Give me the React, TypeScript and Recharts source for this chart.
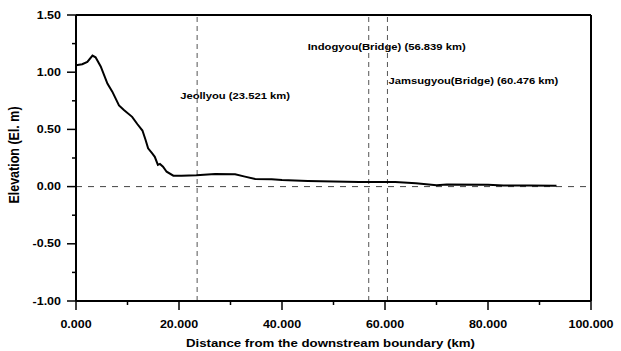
import { LineChart, Line, XAxis, YAxis, ReferenceLine } from "recharts";

// longitudinal water-surface profile
const distanceKm = [
  0, 1.2, 2.2, 3.2, 3.8, 4.8, 6.1, 7.05, 8.35, 9.3,
  10.9, 11.9, 12.9, 13.5, 14.0, 14.8, 15.3, 15.9, 16.3, 16.9,
  17.6, 18.9, 20.5, 23.4, 27.0, 30.9, 32.8, 34.8, 38.0, 40.0,
  45.0, 50.0, 55.0, 60.0, 62.0, 66.0, 70.0, 72.0, 80.0, 83.0,
  88.0, 93.3,
];
const elevation = [
  1.06, 1.07, 1.09, 1.145, 1.13, 1.05, 0.9, 0.83, 0.71, 0.67,
  0.61, 0.547, 0.49, 0.41, 0.335, 0.29, 0.26, 0.19, 0.198, 0.174,
  0.13, 0.095, 0.095, 0.1, 0.11, 0.107, 0.087, 0.066, 0.064, 0.058,
  0.05, 0.045, 0.04, 0.04, 0.04, 0.03, 0.012, 0.018, 0.017, 0.01,
  0.009, 0.008,
];

const markerNames = ["Jeollyou", "Indogyou(Bridge)", "Jamsugyou(Bridge)"];
const markerKm = [23.521, 56.839, 60.476];

const xTicks = [0, 10, 20, 30, 40, 50, 60, 70, 80, 90, 100];
const yTicks = [-1, -0.75, -0.5, -0.25, 0, 0.25, 0.5, 0.75, 1, 1.25, 1.5];

// label placement next to each marker line (px from line x / plot top)
const labelOffsets = [
  { dx: -17, dy: 84 },
  { dx: -61, dy: 35 },
  { dx: 1, dy: 69 },
];

const data = distanceKm.map((km, i) => ({ km, elev: elevation[i] }));

const FONT = '"Liberation Sans", Arial, sans-serif';
const SX = 1.25;

function WideText({ x, y, anchor = "start", size, bold = true, children }: any) {
  return (
    <text
      x={0}
      y={0}
      transform={`translate(${x},${y}) scale(${SX},1)`}
      textAnchor={anchor}
      fontFamily={FONT}
      fontSize={size}
      fontWeight={bold ? "bold" : "normal"}
      fill="#000"
    >
      {children}
    </text>
  );
}

function XTick({ x, y, payload }: any) {
  const major = payload.value % 20 === 0;
  return (
    <g>
      <line x1={x} x2={x} y1={y} y2={y + (major ? 9 : 4)} stroke="#000" strokeWidth={1.5} />
      {major && (
        <WideText x={x} y={y + 27} anchor="middle" size={10}>
          {payload.value.toFixed(3)}
        </WideText>
      )}
    </g>
  );
}

function YTick({ x, y, payload }: any) {
  const major = Math.abs((payload.value * 2) % 1) < 1e-6;
  return (
    <g>
      <line x1={x - (major ? 9 : 4)} x2={x} y1={y} y2={y} stroke="#000" strokeWidth={1.5} />
      {major && (
        <WideText x={x - 15} y={y + 3.6} anchor="end" size={10}>
          {payload.value.toFixed(2)}
        </WideText>
      )}
    </g>
  );
}

function MarkerLabel({ viewBox, text, dx, dy }: any) {
  if (!viewBox) return null;
  return (
    <WideText x={viewBox.x + dx} y={viewBox.y + dy} size={9}>
      {text}
    </WideText>
  );
}

function XTitle({ viewBox }: any) {
  return (
    <WideText x={viewBox.x + viewBox.width / 2 - 3} y={347} anchor="middle" size={10.6}>
      Distance from the downstream boundary (km)
    </WideText>
  );
}

function YTitle({ viewBox }: any) {
  const cy = viewBox.y + viewBox.height / 2 - 3;
  return (
    <text
      x={0}
      y={0}
      transform={`translate(19,${cy}) rotate(-90) scale(1,1.1)`}
      textAnchor="middle"
      fontFamily={FONT}
      fontSize={12.5}
      fontWeight="bold"
      fill="#000"
    >
      Elevation (El. m)
    </text>
  );
}

export default function App() {
  return (
    <div style={{ position: "absolute", left: 0, top: 0, width: 621, height: 351, background: "#fff" }}>
      <LineChart width={621} height={351} data={data} margin={{ top: 15, right: 30, bottom: 0, left: 0 }}>
        <XAxis
          dataKey="km"
          type="number"
          domain={[0, 100]}
          ticks={xTicks}
          interval={0}
          height={50}
          tickLine={false}
          tickSize={0}
          tickMargin={0}
          tick={<XTick />}
          axisLine={{ stroke: "#000", strokeWidth: 2 }}
          label={{ content: (p: any) => <XTitle {...p} /> }}
        />
        <YAxis
          type="number"
          domain={[-1, 1.5]}
          ticks={yTicks}
          interval={0}
          width={76}
          tickLine={false}
          tickSize={0}
          tickMargin={0}
          tick={<YTick />}
          axisLine={{ stroke: "#000", strokeWidth: 2 }}
          label={{ content: (p: any) => <YTitle {...p} /> }}
        />
        <ReferenceLine y={1.5} stroke="#000" strokeWidth={2} />
        <ReferenceLine x={100} stroke="#000" strokeWidth={2} />
        <ReferenceLine y={0} stroke="#444" strokeWidth={1} strokeDasharray="6 6" />
        {markerKm.map((km, i) => (
          <ReferenceLine
            key={markerNames[i]}
            x={km}
            stroke="#555"
            strokeWidth={1}
            strokeDasharray="5 4"
            label={(p: any) => (
              <MarkerLabel
                {...p}
                text={`${markerNames[i]} (${km.toFixed(3)} km)`}
                dx={labelOffsets[i].dx}
                dy={labelOffsets[i].dy}
              />
            )}
          />
        ))}
        <Line
          dataKey="elev"
          type="linear"
          stroke="#000"
          strokeWidth={2}
          dot={false}
          isAnimationActive={false}
        />
      </LineChart>
    </div>
  );
}
